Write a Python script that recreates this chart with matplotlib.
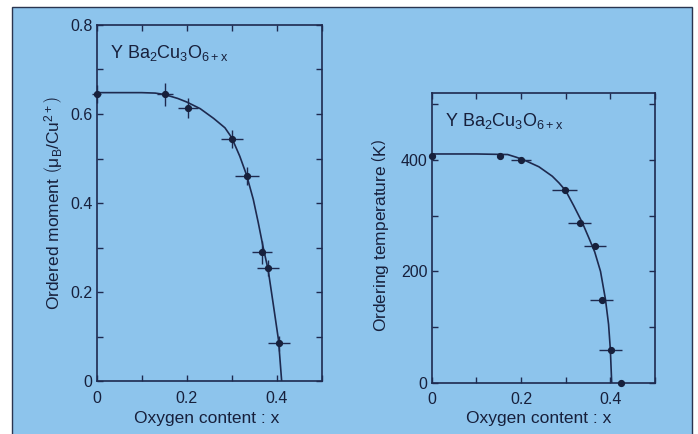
import matplotlib
matplotlib.use('Agg')
import matplotlib.pyplot as plt
from matplotlib.patches import Rectangle
import numpy as np

plt.rcParams['font.family'] = ['Liberation Sans', 'DejaVu Sans']
plt.rcParams['mathtext.fontset'] = 'custom'
plt.rcParams['mathtext.rm'] = 'Liberation Sans'
plt.rcParams['mathtext.it'] = 'Liberation Sans'
plt.rcParams['mathtext.default'] = 'regular'

## data #################################################################
# ordered moment vs oxygen content
mom_x     = [0.0, 0.151, 0.203, 0.301, 0.334, 0.368, 0.381, 0.405]
mom_y     = [0.645, 0.644, 0.613, 0.543, 0.461, 0.289, 0.253, 0.085]
mom_xerr  = [0.010, 0.018, 0.022, 0.024, 0.026, 0.022, 0.024, 0.024]
mom_yerr  = [0.020, 0.026, 0.022, 0.020, 0.020, 0.026, 0.018, 0.017]
mom_fit_x = [0.0, 0.10, 0.13, 0.15, 0.18, 0.20, 0.23, 0.26, 0.285, 0.30,
             0.318, 0.333, 0.348, 0.359, 0.370, 0.381, 0.392, 0.404, 0.411]
mom_fit_y = [0.648, 0.648, 0.647, 0.644, 0.635, 0.627, 0.612, 0.590, 0.569, 0.547,
             0.505, 0.463, 0.408, 0.356, 0.300, 0.250, 0.175, 0.092, 0.0]

# ordering temperature vs oxygen content
tn_x     = [0.0, 0.154, 0.200, 0.298, 0.331, 0.365, 0.381, 0.401, 0.424]
tn_y     = [408, 408, 400, 346, 287, 245, 149, 58, 0]
tn_xerr  = [0.0, 0.0, 0.022, 0.028, 0.025, 0.025, 0.026, 0.026, 0.0]
tn_fit_x = [0.0, 0.10, 0.17, 0.19, 0.21, 0.24, 0.27, 0.285, 0.30, 0.318,
            0.337, 0.352, 0.365, 0.378, 0.389, 0.396, 0.400, 0.402, 0.403]
tn_fit_y = [411, 411, 410, 405, 399, 388, 371, 359, 345, 318,
            288, 260, 235, 200, 150, 105, 60, 20, 0]

compound = 'Y Ba$_2$Cu$_3$O$_{6+x}$'

## styling ##############################################################
bg   = '#8dc4ec'
ink  = '#17203c'
line = '#1e2a4f'

fig = plt.figure(figsize=(6.98, 4.34), dpi=100)
fig.patch.set_facecolor('white')
frame = Rectangle((12/698, -0.05), 680/698, 1.05 - 7/434,
                  transform=fig.transFigure, facecolor=bg,
                  edgecolor='#2a3550', lw=1.0, zorder=-5)
fig.add_artist(frame)

ax1 = fig.add_axes([0.1385, 0.1221, 0.3224, 0.8203])
ax2 = fig.add_axes([0.6185, 0.1182, 0.3199, 0.6668])

for ax in (ax1, ax2):
    ax.set_facecolor(bg)
    for s in ax.spines.values():
        s.set_color(line)
        s.set_linewidth(1.2)
    ax.tick_params(which='both', direction='in', top=True, right=True,
                   length=4.5, width=1.0, color=line, labelcolor=ink,
                   labelsize=11.5)
    ax.tick_params(axis='x', pad=7)
    ax.tick_params(axis='y', pad=3)
    ax.set_xlim(0, 0.5)
    ax.set_xticks([0, 0.1, 0.2, 0.3, 0.4, 0.5])
    ax.set_xticklabels(['0', '', '0.2', '', '0.4', ''])

# left panel
ax1.errorbar(mom_x, mom_y, xerr=mom_xerr, yerr=mom_yerr, fmt='o', ms=4.2,
             color=ink, ecolor=line, elinewidth=1.0, capsize=0, zorder=3,
             clip_on=False)
ax1.plot(mom_fit_x, mom_fit_y, color=line, lw=1.2)
ax1.set_ylim(0, 0.8)
ax1.set_yticks(np.arange(0, 0.81, 0.1))
ax1.set_yticklabels(['0', '', '0.2', '', '0.4', '', '0.6', '', '0.8'])
ax1.text(0.029, 0.737, compound, fontsize=13, color=ink, va='center')
ax1.set_ylabel(r'Ordered moment $\left(\mu_B/Cu^{2+}\right)$', fontsize=12.5, color=ink)
ax1.yaxis.set_label_coords(-0.19, 0.5)
ax1.set_xlabel('Oxygen content : x', fontsize=12.5, color=ink)
ax1.xaxis.set_label_coords(0.49, -0.104)
ax1.xaxis.label.set_va('center')
ax1.yaxis.label.set_va('center')

# right panel
ax2.errorbar(tn_x, tn_y, xerr=tn_xerr, fmt='o', ms=4.2,
             color=ink, ecolor=line, elinewidth=1.0, capsize=0, zorder=3,
             clip_on=False)
ax2.plot(tn_fit_x, tn_fit_y, color=line, lw=1.2)
ax2.set_ylim(0, 520)
ax2.set_yticks([0, 100, 200, 300, 400, 500])
ax2.set_yticklabels(['0', '', '200', '', '400', ''])
ax2.text(0.03, 470, compound, fontsize=13, color=ink, va='center')
ax2.set_ylabel(r'Ordering temperature $\left(K\right)$', fontsize=12.5, color=ink)
ax2.yaxis.set_label_coords(-0.23, 0.507)
ax2.set_xlabel('Oxygen content : x', fontsize=12.5, color=ink)
ax2.xaxis.set_label_coords(0.48, -0.122)
ax2.xaxis.label.set_va('center')
ax2.yaxis.label.set_va('center')

plt.savefig('out.png', dpi=100, facecolor=fig.get_facecolor())
